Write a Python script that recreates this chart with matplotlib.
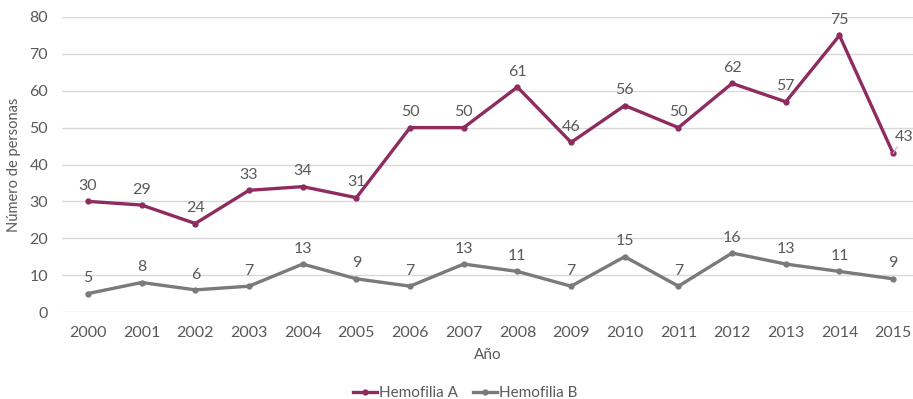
import numpy as np
import matplotlib.pyplot as plt

plt.rcParams['font.family'] = ['Lato', 'DejaVu Sans']

years = ['2000', '2001', '2002', '2003', '2004', '2005', '2006', '2007',
         '2008', '2009', '2010', '2011', '2012', '2013', '2014', '2015']
hemofilia_a = [30, 29, 24, 33, 34, 31, 50, 50, 61, 46, 56, 50, 62, 57, 75, 43]
hemofilia_b = [5, 8, 6, 7, 13, 9, 7, 13, 11, 7, 15, 7, 16, 13, 11, 9]

col_a = '#8E2C5F'
col_b = '#7A7A7A'
txt = '#595959'

fig = plt.figure(figsize=(9.13, 3.99), dpi=100)
ax = fig.add_axes([62 / 913, 87 / 399, 851 / 913, 295 / 399])

x = np.arange(len(years))
ax.plot(x, hemofilia_a, color=col_a, lw=2.4, marker='o', ms=3.5,
        label='Hemofilia A', solid_joinstyle='miter')
ax.plot(x, hemofilia_b, color=col_b, lw=2.4, marker='o', ms=3.5,
        label='Hemofilia B', solid_joinstyle='miter')

# value labels above each point; the last A value gets a leader line
for i, v in enumerate(hemofilia_a):
    if i == len(years) - 1:
        ax.annotate(str(v), (i, v), xytext=(1, 7), textcoords='offset points',
                    ha='left', va='bottom', fontsize=11.5, color=txt,
                    arrowprops=dict(arrowstyle='-', color='#BFBFBF', lw=0.8,
                                    shrinkA=0, shrinkB=0))
    else:
        ax.annotate(str(v), (i, v), xytext=(0, 6), textcoords='offset points',
                    ha='center', va='bottom', fontsize=11.5, color=txt)
for i, v in enumerate(hemofilia_b):
    ax.annotate(str(v), (i, v), xytext=(0, 6), textcoords='offset points',
                ha='center', va='bottom', fontsize=11.5, color=txt)

ax.set_xlim(-0.484, 15.37)
ax.set_ylim(0, 80)
ax.set_yticks(range(0, 81, 10))
ax.set_xticks(x)
ax.set_xticklabels(years)
ax.grid(axis='y', color='#D9D9D9', lw=1)
ax.set_axisbelow(True)
for s in ax.spines.values():
    s.set_visible(False)
ax.tick_params(length=0, labelsize=11.5, colors=txt, pad=10)
ax.tick_params(axis='y', pad=10)

ax.set_xlabel('Año', fontsize=11, color=txt, labelpad=6)
ax.set_ylabel('Número de personas', fontsize=10.5, color=txt, labelpad=6)

fig.legend(loc='center', bbox_to_anchor=(465 / 913, 1 - 393 / 399), ncol=2,
           frameon=False, fontsize=11, labelcolor=txt, handlelength=1.6,
           handletextpad=0.1, columnspacing=1.0)

fig.savefig('out.png', dpi=100)
